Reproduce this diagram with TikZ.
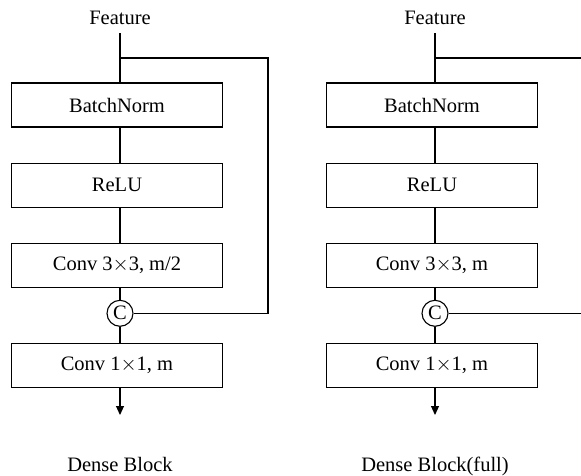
\documentclass[tikz,border=0pt]{standalone}
\usepackage{fontspec}
\setmainfont{Liberation Serif}
\usetikzlibrary{arrows.meta, positioning}

\begin{document}
\begin{tikzpicture}[
x=1pt, y=-1pt,
node distance=35pt,
line width=1.1pt,
font=\fontsize{20.5pt}{24pt}\selectfont,
layer/.style={draw, rectangle, align=center, minimum width=211pt, minimum height=44pt, inner sep=0pt},
concat/.style={draw, circle, minimum size=26pt, inner sep=0pt},
label/.style={anchor=base, inner sep=0pt},
arrow/.style={-{Triangle[width=8pt,length=9pt]}}
]
\useasboundingbox (0,0) rectangle (581,475);

% Dense Block
\node[label] (feat1) at (120,24) {Feature};
\coordinate (top1) at (120,33);
\coordinate (br1) at (120,58);
\coordinate (skip1) at (268,58);
\node[layer] (bn1) at (117,105) {BatchNorm};
\node[layer] (relu1) [below=of bn1] {ReLU};
\node[layer] (conv1) [below=of relu1] {Conv 3$\times$3, m/2};
\node[concat] (cat1) [below=12pt of conv1.south -| top1] {C};
\node[layer] (conv1b) [below=16pt of cat1.south -| bn1] {Conv 1$\times$1, m};
\coordinate (out1) at (120,415);
\node[label] (name1) at (120,471) {Dense Block};

\draw (top1) -- (bn1.north -| top1);
\draw (br1) -- (skip1) |- (cat1.east);
\draw (bn1.south -| top1) -- (relu1.north -| top1);
\draw (relu1.south -| top1) -- (conv1.north -| top1);
\draw (conv1.south -| top1) -- (cat1);
\draw (cat1) -- (conv1b.north -| top1);
\draw[arrow] (conv1b.south -| top1) -- (out1);

% Dense Block(full)
\node[label] (feat2) at (435,24) {Feature};
\coordinate (top2) at (435,33);
\coordinate (br2) at (435,58);
\coordinate (skip2) at (581,58);
\node[layer] (bn2) at (432,105) {BatchNorm};
\node[layer] (relu2) [below=of bn2] {ReLU};
\node[layer] (conv2) [below=of relu2] {Conv 3$\times$3, m};
\node[concat] (cat2) [below=12pt of conv2.south -| top2] {C};
\node[layer] (conv2b) [below=16pt of cat2.south -| bn2] {Conv 1$\times$1, m};
\coordinate (out2) at (435,415);
\coordinate (skip2b) at (581,311);
\node[label] (name2) at (435,471) {Dense Block(full)};

\draw (top2) -- (bn2.north -| top2);
\draw (br2) -- (skip2);
\draw (cat2) -- (cat2 -| skip2b);
\draw (bn2.south -| top2) -- (relu2.north -| top2);
\draw (relu2.south -| top2) -- (conv2.north -| top2);
\draw (conv2.south -| top2) -- (cat2);
\draw (cat2) -- (conv2b.north -| top2);
\draw[arrow] (conv2b.south -| top2) -- (out2);

\end{tikzpicture}
\end{document}
